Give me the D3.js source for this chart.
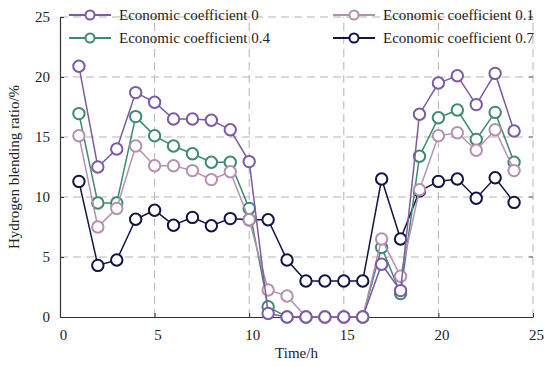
<!DOCTYPE html>
<html><head><meta charset="utf-8">
<script src="https://cdn.jsdelivr.net/npm/d3@7"></script>
<style>body{margin:0;background:#fff}svg{display:block}</style>
</head><body>
<svg id="c" width="550" height="367"></svg>
<script>
const hours = d3.range(1, 25);
const seriesNames = ["Economic coefficient 0","Economic coefficient 0.1","Economic coefficient 0.4","Economic coefficient 0.7"];
const seriesColors = ["#7d5aa5","#b690b2","#3f8a6f","#111444"];
const coef0  = [20.9,12.5,14.0,18.7,17.9,16.5,16.5,16.4,15.6,12.95,0.3,0,0,0,0,0,4.4,2.2,16.9,19.5,20.1,17.7,20.3,15.5];
const coef01 = [15.1,7.5,9.05,14.25,12.6,12.6,12.2,11.45,12.1,8.1,2.25,1.75,0,0,0,0,6.5,3.4,10.6,15.1,15.35,13.9,15.6,12.2];
const coef04 = [16.95,9.5,9.5,16.7,15.1,14.25,13.6,12.9,12.9,9.05,0.85,0,0,0,0,0,5.8,1.95,13.4,16.6,17.25,14.8,17.05,12.9];
const coef07 = [11.3,4.3,4.75,8.15,8.9,7.65,8.3,7.6,8.2,8.1,8.1,4.75,3.0,3.0,3.0,3.0,11.5,6.5,10.5,11.3,11.5,9.9,11.6,9.55];
const xTicks = [0,5,10,15,20,25];
const yTicks = [0,5,10,15,20,25];
const allSeries = [coef0, coef01, coef04, coef07];

const svg = d3.select("#c");
const L = 60, R = 533, T = 17, B = 317;
const x = d3.scaleLinear().domain([0,25]).range([L,R]);
const y = d3.scaleLinear().domain([0,25]).range([B,T]);
const font = "'Liberation Serif','Times New Roman',serif";

// grid
const grid = svg.append("g").attr("stroke","#b3b3b3").attr("stroke-width",1).attr("stroke-dasharray","8,5");
xTicks.filter(d=>d>0).forEach(d=>grid.append("line").attr("x1",x(d)).attr("x2",x(d)).attr("y1",B).attr("y2",T));
yTicks.filter(d=>d>0).forEach(d=>grid.append("line").attr("x1",L).attr("x2",R).attr("y1",y(d)).attr("y2",y(d)));

// axes
const xAxis = svg.append("g").attr("transform",`translate(0,${B})`)
  .call(d3.axisBottom(x).tickValues(xTicks).tickSize(-4).tickPadding(12).tickSizeOuter(0));
const yAxis = svg.append("g").attr("transform",`translate(${L},0)`)
  .call(d3.axisLeft(y).tickValues(yTicks).tickSize(-4).tickPadding(10).tickSizeOuter(0));
[xAxis,yAxis].forEach(a=>{
  a.select(".domain").attr("stroke","#333").attr("stroke-width",1.2);
  a.selectAll(".tick line").attr("stroke","#333");
  a.selectAll("text").attr("font-family",font).attr("font-size",15).attr("fill","#222");
});
xAxis.selectAll(".tick text").attr("dx",3);
// right ticks
yTicks.filter(d=>d>0).forEach(d=>svg.append("line").attr("x1",R).attr("x2",R-4).attr("y1",y(d)).attr("y2",y(d)).attr("stroke","#666"));

svg.append("text").attr("x",(L+R)/2).attr("y",358).attr("text-anchor","middle")
  .attr("font-family",font).attr("font-size",15).attr("fill","#222").text("Time/h");
svg.append("text").attr("transform",`translate(19,${(T+B)/2}) rotate(-90)`).attr("text-anchor","middle")
  .attr("font-family",font).attr("font-size",15).attr("fill","#222").text("Hydrogen blending ratio/%");

// series: draw 0.7 first, purple last
const line = d3.line().x((d,i)=>x(hours[i])).y(d=>y(d));
[3,2,1,0].forEach(k=>{
  const g = svg.append("g");
  g.append("path").datum(allSeries[k]).attr("d",line).attr("fill","none")
    .attr("stroke",seriesColors[k]).attr("stroke-width",1.5);
  g.selectAll("circle").data(allSeries[k]).join("circle")
    .attr("cx",(d,i)=>x(hours[i])).attr("cy",d=>y(d)).attr("r",5.7)
    .attr("fill","#fff").attr("stroke",seriesColors[k]).attr("stroke-width",2);
});

// legend
const leg = [[69,119,15],[333,383,15],[69,119,38],[333,383,38]];
[0,1,2,3].forEach((k,j)=>{
  const [lx,tx,ly] = leg[j];
  svg.append("line").attr("x1",lx).attr("x2",lx+42).attr("y1",ly).attr("y2",ly)
    .attr("stroke",seriesColors[k]).attr("stroke-width",1.8);
  svg.append("circle").attr("cx",lx+21).attr("cy",ly).attr("r",4.5)
    .attr("fill","#fff").attr("stroke",seriesColors[k]).attr("stroke-width",2);
  svg.append("text").attr("x",tx).attr("y",ly+5).attr("font-family",font).attr("font-size",15)
    .attr("fill","#222").text(seriesNames[k]);
});
</script>
</body></html>
